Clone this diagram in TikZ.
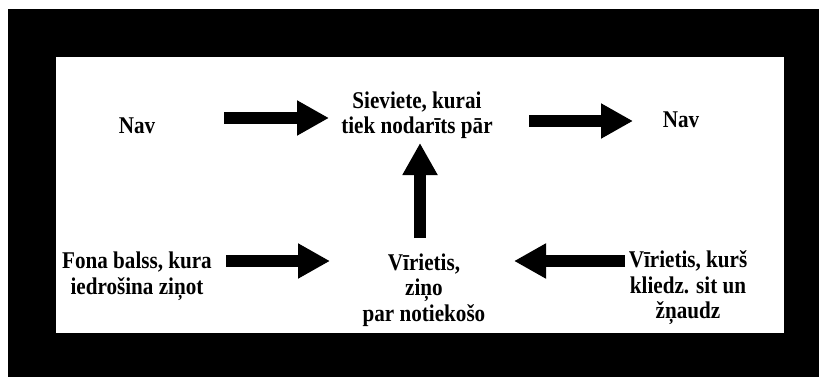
\documentclass[tikz,border=0pt]{standalone}
\usepackage{fontspec}
\setmainfont{Liberation Serif}
\newfontfamily\diagfont[FakeStretch=0.88]{Liberation Serif}
\usetikzlibrary{arrows.meta}
\begin{document}
\begin{tikzpicture}[x=1pt,y=1pt,
  lbl/.style={font=\diagfont\bfseries\fontsize{24}{25.5}\selectfont, align=center, inner sep=0pt},
  blockarrow/.style={line width=12pt, -{Triangle[length=32pt,width=33pt]}}]
\useasboundingbox (0,0) rectangle (819,-377);
\fill[white] (0,0) rectangle (819,-377);
\fill[black] (8,-9) rectangle (819,-377);
\fill[white] (56,-57) rectangle (784,-333);
% text nodes
\node[lbl] (nav1) at (137,-126) {Nav};
\node[lbl] (siev) at (417,-115) {Sieviete, kurai\\tiek nodarīts pār};
\node[lbl] (nav2) at (681,-120) {Nav};
\node[lbl] (fona) at (137,-276) {Fona balss, kura\\iedrošina ziņot};
\node[lbl] (vir) at (424,-290) {Vīrietis,\\ziņo\\par notiekošo};
\node[lbl] (virk) at (688,-288) {Vīrietis, kurš\\kliedz. sit un\\žņaudz};
% arrow end points
\coordinate (a1s) at (224,-118);
\coordinate (a1e) at (329,-118);
\coordinate (a2s) at (529,-121);
\coordinate (a2e) at (633,-121);
\coordinate (a3s) at (420,-238);
\coordinate (a3e) at (420,-143);
\coordinate (a4s) at (226,-261);
\coordinate (a4e) at (330,-261);
\coordinate (a5s) at (625,-261);
\coordinate (a5e) at (514,-261);
\draw[blockarrow] (a1s) -- (a1e);
\draw[blockarrow] (a2s) -- (a2e);
\draw[blockarrow] (a3s) -- (a3e);
\draw[blockarrow] (a4s) -- (a4e);
\draw[blockarrow] (a5s) -- (a5e);
\end{tikzpicture}
\end{document}
